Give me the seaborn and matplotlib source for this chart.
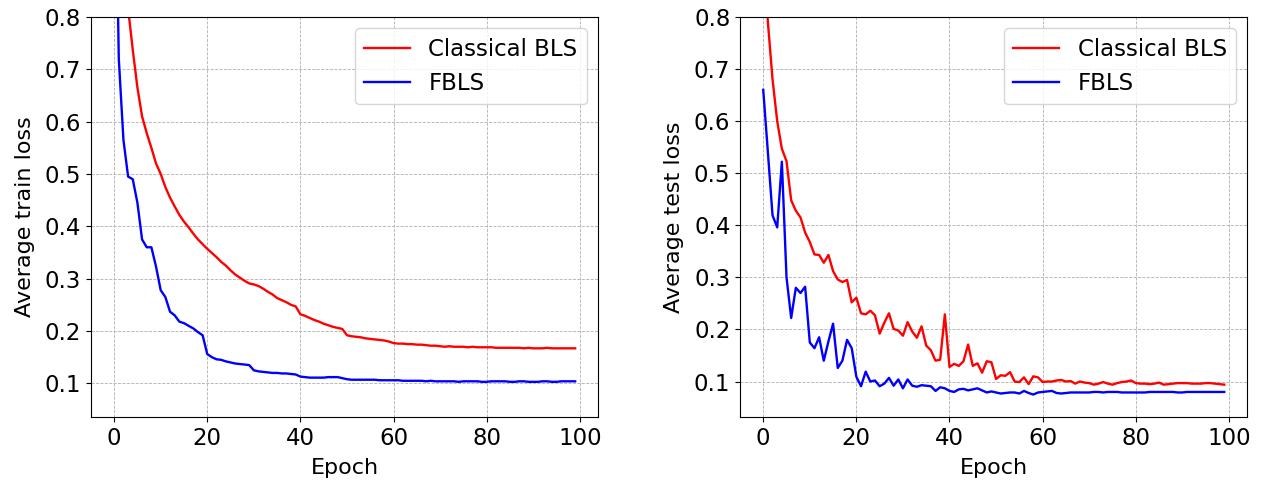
import numpy as np
import pandas as pd
import matplotlib
matplotlib.use("Agg")
import matplotlib.pyplot as plt
import seaborn as sns

# ---------------- data ----------------
epochs = np.arange(100)

train_bls = [
    1.44, 1.10, 0.93, 0.816, 0.737, 0.665, 0.61, 0.578, 0.55, 0.52,
    0.50, 0.475, 0.455, 0.438, 0.422, 0.409, 0.398, 0.386, 0.375, 0.366,
    0.357, 0.349, 0.341, 0.332, 0.325, 0.316, 0.308, 0.302, 0.296, 0.291,
    0.289, 0.286, 0.281, 0.275, 0.27, 0.263, 0.259, 0.255, 0.25, 0.247,
    0.232, 0.229, 0.225, 0.221, 0.218, 0.214, 0.211, 0.208, 0.206, 0.204,
    0.192, 0.19, 0.189, 0.188, 0.186, 0.185, 0.184, 0.183, 0.182, 0.18,
    0.177, 0.176, 0.176, 0.175, 0.175, 0.174, 0.174, 0.173, 0.172, 0.172,
    0.171, 0.170, 0.171, 0.170, 0.170, 0.170, 0.169, 0.170, 0.169, 0.169,
    0.169, 0.169, 0.168, 0.168, 0.168, 0.168, 0.168, 0.168, 0.167, 0.168,
    0.167, 0.167, 0.167, 0.168, 0.167, 0.167, 0.167, 0.167, 0.167, 0.167,
]
train_fbls = [
    1.25, 0.72, 0.565, 0.495, 0.49, 0.445, 0.375, 0.36, 0.36, 0.323,
    0.278, 0.265, 0.237, 0.23, 0.218, 0.215, 0.21, 0.205, 0.198, 0.192,
    0.156, 0.15, 0.146, 0.145, 0.142, 0.14, 0.138, 0.137, 0.136, 0.135,
    0.125, 0.123, 0.122, 0.121, 0.12, 0.12, 0.119, 0.119, 0.118, 0.117,
    0.113, 0.112, 0.111, 0.111, 0.111, 0.111, 0.112, 0.112, 0.112, 0.11,
    0.108, 0.107, 0.107, 0.107, 0.107, 0.107, 0.107, 0.106, 0.106, 0.106,
    0.106, 0.106, 0.105, 0.105, 0.105, 0.105, 0.105, 0.104, 0.105, 0.104,
    0.104, 0.104, 0.104, 0.104, 0.103, 0.104, 0.104, 0.104, 0.104, 0.103,
    0.103, 0.104, 0.104, 0.104, 0.104, 0.103, 0.103, 0.104, 0.104, 0.103,
    0.103, 0.103, 0.104, 0.104, 0.103, 0.103, 0.104, 0.104, 0.104, 0.104,
]
test_bls = [
    0.93, 0.79, 0.68, 0.60, 0.547, 0.523, 0.448, 0.428, 0.415, 0.386,
    0.368, 0.344, 0.343, 0.328, 0.343, 0.312, 0.296, 0.291, 0.295, 0.252,
    0.261, 0.231, 0.229, 0.236, 0.227, 0.192, 0.213, 0.231, 0.201, 0.198,
    0.188, 0.214, 0.196, 0.184, 0.206, 0.169, 0.16, 0.14, 0.142, 0.229,
    0.128, 0.134, 0.13, 0.139, 0.171, 0.13, 0.135, 0.117, 0.139, 0.137,
    0.105, 0.112, 0.111, 0.118, 0.10, 0.099, 0.108, 0.095, 0.11, 0.108,
    0.099, 0.10, 0.10, 0.102, 0.103, 0.10, 0.101, 0.096, 0.10, 0.098,
    0.097, 0.094, 0.096, 0.099, 0.096, 0.094, 0.097, 0.099, 0.10, 0.102,
    0.097, 0.096, 0.096, 0.095, 0.096, 0.098, 0.094, 0.095, 0.096, 0.097,
    0.097, 0.097, 0.096, 0.096, 0.096, 0.097, 0.097, 0.096, 0.095, 0.094,
]
test_fbls = [
    0.66, 0.54, 0.419, 0.396, 0.522, 0.30, 0.222, 0.28, 0.27, 0.282,
    0.175, 0.164, 0.185, 0.14, 0.177, 0.211, 0.126, 0.14, 0.18, 0.164,
    0.109, 0.091, 0.119, 0.10, 0.102, 0.091, 0.096, 0.107, 0.092, 0.104,
    0.087, 0.104, 0.092, 0.09, 0.093, 0.092, 0.091, 0.082, 0.089, 0.087,
    0.082, 0.08, 0.085, 0.086, 0.083, 0.085, 0.087, 0.083, 0.079, 0.081,
    0.079, 0.077, 0.078, 0.079, 0.079, 0.077, 0.082, 0.078, 0.075, 0.079,
    0.08, 0.081, 0.082, 0.078, 0.077, 0.078, 0.079, 0.079, 0.079, 0.079,
    0.079, 0.08, 0.08, 0.079, 0.08, 0.08, 0.08, 0.079, 0.079, 0.079,
    0.079, 0.079, 0.079, 0.08, 0.08, 0.08, 0.08, 0.08, 0.08, 0.079,
    0.079, 0.08, 0.08, 0.08, 0.08, 0.08, 0.08, 0.08, 0.08, 0.08,
]

series_names = ["Classical BLS", "FBLS"]
series_colors = ["red", "blue"]
ylabels = ["Average train loss", "Average test loss"]

df_train = pd.DataFrame({"Epoch": epochs, "Classical BLS": train_bls, "FBLS": train_fbls})
df_test = pd.DataFrame({"Epoch": epochs, "Classical BLS": test_bls, "FBLS": test_fbls})

# ---------------- figure ----------------
plt.rcParams["font.family"] = ["DejaVu Sans"]
plt.rcParams["font.size"] = 16.5

fig, axes = plt.subplots(1, 2, figsize=(12.65, 4.83), dpi=100)
fig.subplots_adjust(left=0.072, right=0.986, bottom=0.137, top=0.965, wspace=0.28)

for ax, df, ylab in zip(axes, [df_train, df_test], ylabels):
    for name, col in zip(series_names, series_colors):
        sns.lineplot(x="Epoch", y=name, data=df, ax=ax, color=col,
                     linewidth=1.7, label=name)
    ax.set_ylim(top=0.8)
    ax.set_xticks([0, 20, 40, 60, 80, 100])
    ax.set_yticks([0.1, 0.2, 0.3, 0.4, 0.5, 0.6, 0.7, 0.8])
    ax.set_xlabel("Epoch", fontsize=16, labelpad=6)
    ax.set_ylabel(ylab, fontsize=16, labelpad=7)
    ax.tick_params(labelsize=16.5)
    ax.grid(True, linestyle="--", linewidth=0.6, color="#b0b0b0")
    ax.legend(loc="upper right", fontsize=16.5, frameon=True)

fig.savefig("out.png", dpi=100)
plt.close(fig)
